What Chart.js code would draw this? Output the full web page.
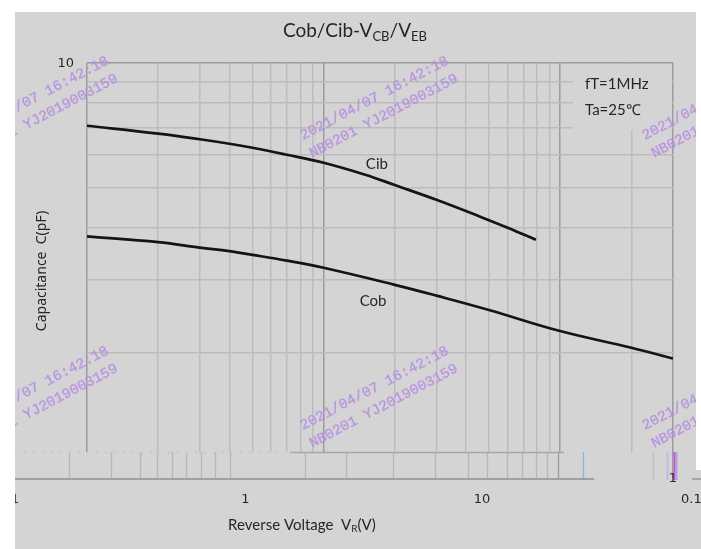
<!DOCTYPE html>
<html>
<head>
<meta charset="utf-8">
<script src="https://cdn.jsdelivr.net/npm/chart.js@4.4.1/dist/chart.umd.min.js"></script>
<style>
  html, body { margin: 0; padding: 0; background: #fff; }
  canvas { display: block; }
</style>
</head>
<body>
<canvas id="cap-chart" width="701" height="549"></canvas>
<script>
// ===== Curve data =====
const cibVoltage = [0.1, 0.2, 0.3, 0.4, 0.5, 0.7, 1, 1.5, 2, 3, 4.7, 6, 7.9];
const cibCapacitance = [7.06, 6.76, 6.55, 6.39, 6.25, 6.01, 5.75, 5.38, 5.08, 4.68, 4.24, 4.01, 3.75];

const cobVoltage = [0.1, 0.2, 0.3, 0.4, 0.5, 0.7, 1, 2, 3, 5, 10, 20, 30];
const cobCapacitance = [3.82, 3.70, 3.59, 3.52, 3.45, 3.34, 3.21, 2.92, 2.75, 2.54, 2.26, 2.06, 1.94];

// grid of the log-log plot
const xGridValues = [0.1, 0.2, 0.3, 0.4, 0.5, 0.6, 0.7, 0.8, 0.9, 1, 2, 3, 4, 5, 6, 7, 8, 9, 10, 20, 30];
const xMajorValues = [0.1, 1, 10, 30];
const yGridValues = [1, 2, 3, 4, 5, 6, 7, 8, 9, 10];

// tick labels (the label row is offset from the grid in the original scan)
const xTickLabels = ['0.1', '1', '10'];
const xTickValues = [0.1, 1, 10];
const yTopLabel = '10';
const yBottomLabel = '1';

// lines of the pasted axis strip under the plot
const stripLineValues = [0.0837, 0.126, 0.167, 0.197, 0.228, 0.263, 0.302, 0.349, 0.404,
  0.837, 1.25, 1.97, 2.96, 4.08, 4.91, 5.96, 6.89, 7.9, 8.79, 9.78];
const stripColorValues = [12.5, 24.6, 28.4, 30.2, 31];

const conditionNotes = ['fT=1MHz', 'Ta=25℃'];
const seriesNames = ['Cib', 'Cob'];
const watermarkLines = ['2021/04/07 16:42:18', 'NB0201 YJ2019003159'];

// ===== Styles =====
const BG = '#d4d4d4';
const TEXT = '#262626';
const GRID_MINOR = '#bcbcbc';
const GRID_MAJOR = '#9c9c9c';
const CURVE = '#141414';
const LABEL_SHIFT = 0.467; // main-axis value under the "1" label
const stripColors = ['#8fb4d8', '#bdbdbd', '#c6b4ea', '#d24fd6', '#a9a2e4'];

function drawParts(ctx, parts, cx, cy, size, family) {
  const sub = Math.round(size * 0.66);
  let total = 0;
  parts.forEach(([t, isSub]) => {
    ctx.font = `${isSub ? sub : size}px ${family}`;
    total += ctx.measureText(t).width;
  });
  let xPos = cx - total / 2;
  parts.forEach(([t, isSub]) => {
    ctx.font = `${isSub ? sub : size}px ${family}`;
    ctx.fillText(t, xPos, isSub ? cy + size * 0.28 : cy);
    xPos += ctx.measureText(t).width;
  });
}

function line(ctx, x1, y1, x2, y2) {
  ctx.beginPath();
  ctx.moveTo(x1, y1);
  ctx.lineTo(x2, y2);
  ctx.stroke();
}

const sheetPlugin = {
  id: 'sheet',
  beforeDraw(chart) {
    const { ctx, width, height } = chart;
    ctx.save();
    ctx.fillStyle = BG;
    ctx.fillRect(0, 0, width, height);
    ctx.restore();
  },
  beforeDatasetsDraw(chart) {
    const { ctx, chartArea: a, scales: { x, y } } = chart;
    const y1 = y.getPixelForValue(1);
    const stripTop = y1 - 26;
    ctx.save();
    ctx.fillStyle = BG;
    ctx.fillRect(a.left - 2, stripTop, a.right - a.left + 1, y1 - stripTop + 4);
    // box behind the test conditions
    ctx.fillRect(a.right - 100, a.top + 1, 99, 66);

    ctx.lineWidth = 1.3;
    stripLineValues.forEach(v => {
      const px = Math.round(x.getPixelForValue(v)) + 0.5;
      ctx.strokeStyle = v > 9 ? GRID_MAJOR : '#b6b6b6';
      line(ctx, px, stripTop, px, y1);
    });
    stripColorValues.forEach((v, i) => {
      const px = Math.round(x.getPixelForValue(v)) + 0.5;
      ctx.strokeStyle = stripColors[i];
      ctx.lineWidth = i >= 2 ? 2 : 1.3;
      line(ctx, px, stripTop, px, y1 + 2);
    });
    ctx.lineWidth = 1.3;
    ctx.strokeStyle = '#a6a6a6';
    line(ctx, x.getPixelForValue(0.72), stripTop + 0.5, x.getPixelForValue(10.4), stripTop + 0.5);
    ctx.setLineDash([2, 7]);
    ctx.strokeStyle = '#c4c4c4';
    line(ctx, 15, stripTop + 0.5, x.getPixelForValue(0.72), stripTop + 0.5);
    ctx.setLineDash([]);
    ctx.strokeStyle = '#8e8e8e';
    line(ctx, 15, y1 + 1, x.getPixelForValue(13.9), y1 + 1);
    line(ctx, 692, y1 + 1, 701, y1 + 1);
    ctx.restore();
  },
  afterDraw(chart) {
    const { ctx, chartArea: a, scales: { x, y, xLabel } } = chart;
    ctx.save();
    ctx.fillStyle = TEXT;
    ctx.textBaseline = 'middle';
    ctx.textAlign = 'left';

    drawParts(ctx, [['Cob/Cib-V', false], ['CB', true], ['/V', false], ['EB', true]], 355, 31, 19, 'Lato');
    drawParts(ctx, [['Reverse Voltage  V', false], ['R', true], ['(V)', false]], 302, 525, 15, 'Lato');

    ctx.save();
    ctx.translate(42, 271);
    ctx.rotate(-Math.PI / 2);
    ctx.textAlign = 'center';
    ctx.font = '14px "Noto Sans"';
    ctx.fillText('Capacitance  C(pF)', 0, 0);
    ctx.restore();

    // tick labels
    ctx.font = '13px "DejaVu Sans"';
    ctx.textAlign = 'center';
    xTickValues.forEach((v, i) => {
      ctx.fillText(xTickLabels[i], xLabel.getPixelForValue(v), 500);
    });
    ctx.textAlign = 'right';
    ctx.fillText(yTopLabel, a.left - 13, y.getPixelForValue(10) + 1);
    ctx.textAlign = 'center';
    ctx.fillText(yBottomLabel, a.right, y.getPixelForValue(1) + 1);
    ctx.textAlign = 'left';
    ctx.fillText('0.1', 681, 500);

    // notes and curve names
    ctx.font = '15px Lato';
    conditionNotes.forEach((t, i) => ctx.fillText(t, a.right - 88, a.top + 21 + i * 26));
    ctx.textAlign = 'center';
    ctx.fillText(seriesNames[0], x.getPixelForValue(1.68), y.getPixelForValue(5.71));
    ctx.fillText(seriesNames[1], x.getPixelForValue(1.62), y.getPixelForValue(2.67));

    // scan watermarks
    ctx.textAlign = 'left';
    ctx.textBaseline = 'alphabetic';
    ctx.font = '14.5px "Liberation Mono"';
    ctx.fillStyle = 'rgba(170, 138, 226, 0.85)';
    ctx.strokeStyle = 'rgba(196, 150, 226, 0.6)';
    ctx.lineWidth = 0.6;
    [-37, 303, 645].forEach(x0 => {
      [140, 430].forEach(y0 => {
        ctx.save();
        ctx.translate(x0, y0);
        ctx.rotate(-0.482);
        watermarkLines.forEach((t, i) => {
          ctx.fillText(t, 0, i * 20);
          ctx.strokeText(t, 0, i * 20);
        });
        ctx.restore();
      });
    });

    // white margins of the scan
    ctx.fillStyle = '#ffffff';
    ctx.fillRect(0, 0, 15, chart.height);
    ctx.fillRect(0, 0, chart.width, 12);
    ctx.fillRect(696, 0, 5, 470);
    ctx.restore();
  }
};

const ctx = document.getElementById('cap-chart').getContext('2d');
new Chart(ctx, {
  type: 'line',
  data: {
    datasets: [
      {
        label: seriesNames[0],
        data: cibVoltage.map((v, i) => ({ x: v, y: cibCapacitance[i] })),
        borderColor: CURVE,
        borderWidth: 2.7,
        pointRadius: 0,
        tension: 0.4,
        fill: false,
      },
      {
        label: seriesNames[1],
        data: cobVoltage.map((v, i) => ({ x: v, y: cobCapacitance[i] })),
        borderColor: CURVE,
        borderWidth: 2.7,
        pointRadius: 0,
        tension: 0.4,
        fill: false,
      },
    ],
  },
  options: {
    responsive: false,
    devicePixelRatio: 1,
    animation: false,
    events: [],
    layout: { padding: { left: 87, right: 28, top: 63, bottom: 71 } },
    plugins: { legend: { display: false }, tooltip: { enabled: false } },
    scales: {
      x: {
        type: 'logarithmic',
        min: 0.1,
        max: 30,
        afterBuildTicks: (s) => { s.ticks = xGridValues.map(v => ({ value: v })); },
        ticks: { display: false },
        border: { display: false },
        grid: {
          drawTicks: false,
          lineWidth: 1.5,
          color: (c) => xMajorValues.includes(c.tick.value) ? GRID_MAJOR : GRID_MINOR,
        },
      },
      y: {
        type: 'logarithmic',
        min: 1,
        max: 10,
        afterBuildTicks: (s) => { s.ticks = yGridValues.map(v => ({ value: v })); },
        ticks: { display: false },
        border: { display: false },
        grid: {
          drawTicks: false,
          lineWidth: 1.5,
          color: (c) => c.tick.value === 10 ? GRID_MAJOR : (c.tick.value === 1 ? 'rgba(0,0,0,0)' : GRID_MINOR),
        },
      },
      xLabel: {
        axis: 'x',
        type: 'logarithmic',
        display: false,
        min: 0.1 / LABEL_SHIFT,
        max: 30 / LABEL_SHIFT,
      },
    },
  },
  plugins: [sheetPlugin],
});
</script>
</body>
</html>
